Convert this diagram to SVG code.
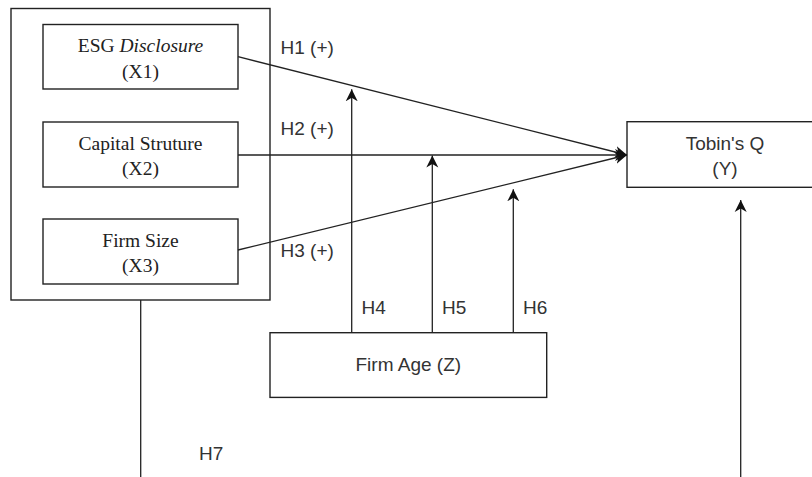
<svg xmlns="http://www.w3.org/2000/svg" width="812" height="477" viewBox="0 0 812 477">
<style>
.box{fill:#fff;stroke:#222;stroke-width:1.4}
.ln{fill:none;stroke:#222;stroke-width:1.3}
.serif{font-family:"Liberation Serif","Times New Roman",serif;font-size:19.5px;fill:#222;text-anchor:middle}
.sans{font-family:"Liberation Sans",Arial,sans-serif;font-size:19px;fill:#333}
.mid{text-anchor:middle}
</style>
<defs>
<marker id="arr" markerUnits="userSpaceOnUse" markerWidth="13" markerHeight="13" viewBox="0 0 13 13" refX="12" refY="6.5" orient="auto">
<path d="M0,0.5 L12,6.5 L0,12.5 L3.5,6.5 Z" fill="#111"/>
</marker>
</defs>
<rect width="812" height="477" fill="#fff"/>
<g id="independent-group">
<rect class="box" x="11" y="8.5" width="259" height="291.5"/>
</g>
<g id="x1">
<rect class="box" x="43" y="24.5" width="195" height="64.5"/>
<text class="serif" x="140.5" y="52">ESG <tspan font-style="italic">Disclosure</tspan></text>
<text class="serif" x="140.5" y="77.5">(X1)</text>
</g>
<g id="x2">
<rect class="box" x="43" y="122" width="195" height="65"/>
<text class="serif" x="140.5" y="149.5">Capital Struture</text>
<text class="serif" x="140.5" y="175">(X2)</text>
</g>
<g id="x3">
<rect class="box" x="43" y="219" width="195" height="65"/>
<text class="serif" x="140.5" y="246.5">Firm Size</text>
<text class="serif" x="140.5" y="272">(X3)</text>
</g>
<g id="y">
<rect class="box" x="627" y="121.7" width="200" height="65.6"/>
<text class="sans mid" x="725" y="149.5">Tobin's Q</text>
<text class="sans mid" x="725" y="175">(Y)</text>
</g>
<g id="z">
<rect class="box" x="270" y="332.7" width="276.7" height="64.7"/>
<text class="sans mid" x="408.3" y="371">Firm Age (Z)</text>
</g>
<g id="connectors">
<line class="ln" x1="238" y1="56.7" x2="627" y2="155" marker-end="url(#arr)"/>
<line class="ln" x1="238" y1="155" x2="627" y2="155" marker-end="url(#arr)"/>
<line class="ln" x1="238" y1="250" x2="627" y2="155" marker-end="url(#arr)"/>
<line class="ln" x1="351.7" y1="332.7" x2="351.7" y2="89.3" marker-end="url(#arr)"/>
<line class="ln" x1="432.3" y1="332.7" x2="432.3" y2="155.5" marker-end="url(#arr)"/>
<line class="ln" x1="513.3" y1="332.7" x2="513.3" y2="189.3" marker-end="url(#arr)"/>
<line class="ln" x1="140.7" y1="300" x2="140.7" y2="477"/>
<line class="ln" x1="740.7" y1="477" x2="740.7" y2="200" marker-end="url(#arr)"/>
</g>
<g id="labels">
<text class="sans" x="280.5" y="54">H1 (+)</text>
<text class="sans" x="280.5" y="135">H2 (+)</text>
<text class="sans" x="280.5" y="257">H3 (+)</text>
<text class="sans" x="361.5" y="314">H4</text>
<text class="sans" x="442" y="314">H5</text>
<text class="sans" x="523" y="314">H6</text>
<text class="sans" x="199" y="460">H7</text>
</g>
</svg>
